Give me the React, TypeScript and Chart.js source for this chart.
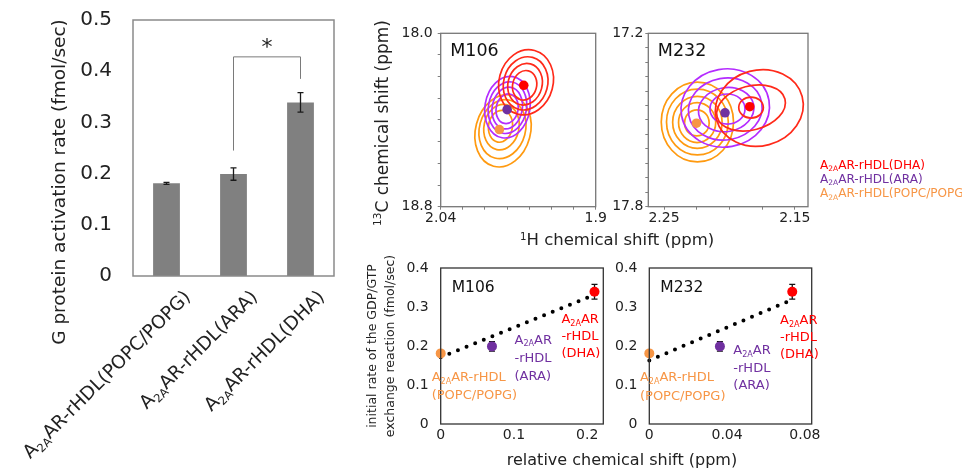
import React, { useEffect, useRef } from 'react';
import { Chart, registerables } from 'chart.js';

Chart.register(...registerables);

const FONT = '"DejaVu Sans", Verdana, sans-serif';
const TEXT = '#222222';

// ---------------- bar chart data ----------------
const barCategories = ['A_2A_AR-rHDL(POPC/POPG)', 'A_2A_AR-rHDL(ARA)', 'A_2A_AR-rHDL(DHA)'];
const activationRates = [0.181, 0.199, 0.339];
const activationErrors = [0.002, 0.012, 0.019];
const barYTicks = [0, 0.1, 0.2, 0.3, 0.4, 0.5];
const barYTickLabels = ['0', '0.1', '0.2', '0.3', '0.4', '0.5'];
const sigPair = [1, 2];
const sigBracketTop = 0.428;
const sigFeet = [0.245, 0.385];
const sigMark = '*';

// ---------------- NMR data (order: POPC/POPG, ARA, DHA) ----------------
const m106PeakH = [1.987, 1.98, 1.965];
const m106PeakC = [18.444, 18.352, 18.24];
const m232PeakH = [2.2252, 2.2034, 2.1845];
const m232PeakC = [17.511, 17.475, 17.454];

const m106HTicks = [1.9, 1.92, 1.94, 1.96, 1.98, 2.0, 2.02, 2.04];
const m106HTickLabels = ['1.9', '', '', '', '', '', '', '2.04'];
const m106CTicks = [18.0, 18.1, 18.2, 18.3, 18.4, 18.5, 18.6, 18.7, 18.8];
const m106CTickLabels = ['18.0', '', '', '', '', '', '', '', '18.8'];
const m232HTicks = [2.15, 2.175, 2.2, 2.225, 2.25];
const m232HTickLabels = ['2.15', '', '', '', '2.25'];
const m232CTicks = [17.2, 17.25, 17.3, 17.35, 17.4, 17.45, 17.5, 17.55, 17.6, 17.65, 17.7, 17.75, 17.8];
const m232CTickLabels = ['17.2', '', '', '', '', '', '', '', '', '', '', '', '17.8'];

// contour levels: [centre 1H, centre 13C, half-width 1H, half-height 13C, tilt deg]
const m106ContoursPOPC = [
  [1.9837, 18.45, 0.0248, 0.169, 15],
  [1.9842, 18.442, 0.0208, 0.138, 15],
  [1.9851, 18.433, 0.0158, 0.106, 12],
  [1.986, 18.429, 0.0108, 0.074, 10],
];
const m106ContoursARA = [
  [1.9797, 18.341, 0.0203, 0.143, 10],
  [1.9797, 18.343, 0.0172, 0.12, 10],
  [1.9799, 18.345, 0.0136, 0.097, 10],
  [1.98, 18.348, 0.0099, 0.069, 10],
];
const m106ContoursDHA = [
  [1.9629, 18.226, 0.0244, 0.152, 15],
  [1.9633, 18.231, 0.0199, 0.124, 15],
  [1.9638, 18.235, 0.0154, 0.097, 15],
  [1.9642, 18.24, 0.0108, 0.069, 15],
];
const m232ContoursPOPC = [
  [2.2245, 17.507, 0.0276, 0.138, 0],
  [2.2245, 17.507, 0.0236, 0.114, 0],
  [2.2245, 17.508, 0.0189, 0.09, 0],
  [2.2247, 17.509, 0.0142, 0.069, 0],
  [2.2249, 17.51, 0.0094, 0.045, 0],
];
const m232ContoursARA = [
  [2.2032, 17.4585, 0.0339, 0.135, -10],
  [2.2032, 17.462, 0.0283, 0.107, -10],
  [2.2025, 17.464, 0.0213, 0.076, -10],
  [2.2015, 17.462, 0.0134, 0.052, 0],
];
const m232ContoursDHA = [
  [2.1772, 17.4585, 0.0339, 0.131, -15],
  [2.1835, 17.4585, 0.0268, 0.076, -15],
  [2.1835, 17.457, 0.0094, 0.0363, 0],
];

// ---------------- correlation data ----------------
const m106Shift = [0, 0.07, 0.21];
const m232Shift = [0, 0.0363, 0.0735];
const m106Fit = [
  [0, 0.171],
  [0.203, 0.326],
];
const m232Fit = [
  [0, 0.163],
  [0.0712, 0.314],
];
const m106XTicks = [0, 0.1, 0.2];
const m106XTickLabels = ['0', '0.1', '0.2'];
const m232XTicks = [0, 0.04, 0.08];
const m232XTickLabels = ['0', '0.04', '0.08'];
const rateTicks = [0, 0.1, 0.2, 0.3, 0.4];
const rateTickLabels = ['0', '0.1', '0.2', '0.3', '0.4'];

const legendNames = ['DHA', 'ARA', 'POPC/POPG'];

// ---------------- styles ----------------
const textColors = ['#f79646', '#7030a0', '#ff0000'];
const dotColors = ['#f79646', '#7030a0', '#ff0000'];
const contourColors = ['#ff9a10', '#b42cff', '#ff2a1a'];
const legendColors = ['#ff0000', '#7030a0', '#f79646'];

// annotation placement (in axis units) for correlation labels
const m106Annot = [
  { lines: ['A_2A_AR-rHDL', '(POPC/POPG)'], x: -0.0123, y: 0.118, gap: 18, c: 0 },
  { lines: ['A_2A_AR', '-rHDL', '(ARA)'], x: 0.1008, y: 0.215, gap: 18, c: 1 },
  { lines: ['A_2A_AR', '-rHDL', '(DHA)'], x: 0.1648, y: 0.267, gap: 17, c: 2 },
];
const m232Annot = [
  { lines: ['A_2A_AR-rHDL', '(POPC/POPG)'], x: -0.0048, y: 0.118, gap: 19, c: 0 },
  { lines: ['A_2A_AR', '-rHDL', '(ARA)'], x: 0.0432, y: 0.188, gap: 17.5, c: 1 },
  { lines: ['A_2A_AR', '-rHDL', '(DHA)'], x: 0.0672, y: 0.265, gap: 17, c: 2 },
];

// ---------------- helpers ----------------
type Seg = { text: string; kind: 'n' | 'sub' | 'sup' };
function parseRich(s: string): Seg[] {
  const out: Seg[] = [];
  const re = /_([^_]*)_|\^([^^]*)\^/g;
  let last = 0;
  let m: any;
  while ((m = re.exec(s))) {
    if (m.index > last) out.push({ text: s.slice(last, m.index), kind: 'n' });
    if (m[1] !== undefined) out.push({ text: m[1], kind: 'sub' });
    else out.push({ text: m[2], kind: 'sup' });
    last = re.lastIndex;
  }
  if (last < s.length) out.push({ text: s.slice(last), kind: 'n' });
  return out;
}
const fnt = (size: number) => `${size}px ${FONT}`;
function drawRich(ctx: any, s: string, x: number, y: number, size: number, color: string, align: string) {
  const segs = parseRich(s);
  const small = size * 0.62;
  ctx.save();
  ctx.fillStyle = color;
  ctx.textBaseline = 'middle';
  ctx.textAlign = 'left';
  const widths = segs.map((sg) => {
    ctx.font = fnt(sg.kind === 'n' ? size : small);
    return ctx.measureText(sg.text).width;
  });
  const total = widths.reduce((a, b) => a + b, 0);
  let cx = align === 'left' ? x : align === 'right' ? x - total : x - total / 2;
  segs.forEach((sg, i) => {
    ctx.font = fnt(sg.kind === 'n' ? size : small);
    const dy = sg.kind === 'sub' ? size * 0.3 : sg.kind === 'sup' ? -size * 0.32 : 0;
    ctx.fillText(sg.text, cx, y + dy);
    cx += widths[i];
  });
  ctx.restore();
}
const fixSize = (size: number) => (scale: any) => {
  if (scale.isHorizontal()) scale.height = size;
  else scale.width = size;
  scale.paddingLeft = 0;
  scale.paddingRight = 0;
  scale.paddingTop = 0;
  scale.paddingBottom = 0;
};
const setTicks = (vals: number[]) => (scale: any) => {
  scale.ticks = vals.map((value) => ({ value }));
};
const boxPlugin = (color: string, width: number) => ({
  id: 'box',
  afterDraw(chart: any) {
    const { ctx, chartArea: a } = chart;
    ctx.save();
    ctx.strokeStyle = color;
    ctx.lineWidth = width;
    ctx.strokeRect(a.left, a.top, a.right - a.left, a.bottom - a.top);
    ctx.restore();
  },
});
const textPlugin = (draw: (chart: any) => void) => ({ id: 'txt', afterDraw: draw });

const baseOptions = {
  animation: false,
  responsive: false,
  events: [],
  plugins: { legend: { display: false }, tooltip: { enabled: false }, title: { display: false } },
};

// ---------------- chart configs ----------------
function barConfig(): any {
  return {
    type: 'bar',
    data: {
      labels: barCategories,
      datasets: [
        {
          data: activationRates,
          backgroundColor: '#808080',
          categoryPercentage: 0.5,
          barPercentage: 0.8,
        },
      ],
    },
    options: {
      ...baseOptions,
      layout: { padding: { top: 20, right: 11, left: 0, bottom: 0 } },
      scales: {
        x: {
          grid: { display: false, drawTicks: false },
          border: { display: false },
          ticks: { display: false },
          afterFit: fixSize(192),
        },
        y: {
          min: 0,
          max: 0.5,
          afterBuildTicks: setTicks(barYTicks),
          grid: { display: false, drawTicks: false },
          border: { display: false },
          ticks: {
            padding: 21,
            color: TEXT,
            font: { family: FONT, size: 20 },
            callback: (_v: any, i: number) => barYTickLabels[i],
          },
          afterFit: fixSize(133),
        },
      },
    },
    plugins: [
      boxPlugin('#8a8a8a', 1.5),
      {
        id: 'barDeco',
        afterDatasetsDraw(chart: any) {
          const ctx = chart.ctx;
          const ys = chart.scales.y;
          const xs = chart.scales.x;
          const meta = chart.getDatasetMeta(0);
          ctx.save();
          ctx.strokeStyle = '#1a1a1a';
          ctx.lineWidth = 1.3;
          meta.data.forEach((el: any, i: number) => {
            const x = el.x;
            const t = ys.getPixelForValue(activationRates[i] + activationErrors[i]);
            const b = ys.getPixelForValue(activationRates[i] - activationErrors[i]);
            ctx.beginPath();
            ctx.moveTo(x, t);
            ctx.lineTo(x, b);
            ctx.moveTo(x - 3, t);
            ctx.lineTo(x + 3, t);
            ctx.moveTo(x - 3, b);
            ctx.lineTo(x + 3, b);
            ctx.stroke();
          });
          // significance bracket
          const x1 = xs.getPixelForValue(sigPair[0]);
          const x2 = xs.getPixelForValue(sigPair[1]);
          const yt = ys.getPixelForValue(sigBracketTop);
          ctx.strokeStyle = '#7a7a7a';
          ctx.lineWidth = 1;
          ctx.beginPath();
          ctx.moveTo(x1, ys.getPixelForValue(sigFeet[0]));
          ctx.lineTo(x1, yt);
          ctx.lineTo(x2, yt);
          ctx.lineTo(x2, ys.getPixelForValue(sigFeet[1]));
          ctx.stroke();
          ctx.fillStyle = TEXT;
          ctx.font = fnt(22);
          ctx.textAlign = 'center';
          ctx.textBaseline = 'alphabetic';
          ctx.fillText(sigMark, (x1 + x2) / 2, yt - 3);
          ctx.restore();
        },
      },
      textPlugin((chart: any) => {
        const ctx = chart.ctx;
        const xs = chart.scales.x;
        const a = chart.chartArea;
        barCategories.forEach((lab, i) => {
          const x = xs.getPixelForValue(i);
          ctx.save();
          ctx.translate(x + 15, a.bottom + 12);
          ctx.rotate(-Math.PI / 4);
          drawRich(ctx, lab, 0, 18.6 * 0.5, 18.6, TEXT, 'right');
          ctx.restore();
        });
        ctx.save();
        ctx.translate(60, 182);
        ctx.rotate(-Math.PI / 2);
        drawRich(ctx, 'G protein activation rate (fmol/sec)', 0, 0, 18.5, TEXT, 'center');
        ctx.restore();
      }),
    ],
  };
}

function contourPlugin(sets: number[][][]) {
  return {
    id: 'contours',
    beforeDatasetsDraw(chart: any) {
      const { ctx, chartArea: a } = chart;
      const xs = chart.scales.x;
      const ys = chart.scales.y;
      ctx.save();
      ctx.beginPath();
      ctx.rect(a.left, a.top, a.right - a.left, a.bottom - a.top);
      ctx.clip();
      ctx.lineWidth = 1.7;
      ctx.lineJoin = 'round';
      sets.forEach((levels, gi) => {
        ctx.strokeStyle = contourColors[gi];
        levels.forEach(([cx, cy, rx, ry, rot]) => {
          const px = xs.getPixelForValue(cx);
          const py = ys.getPixelForValue(cy);
          const rpx = Math.abs(xs.getPixelForValue(cx + rx) - px);
          const rpy = Math.abs(ys.getPixelForValue(cy + ry) - py);
          ctx.beginPath();
          ctx.ellipse(px, py, rpx, rpy, (rot * Math.PI) / 180, 0, Math.PI * 2);
          ctx.stroke();
        });
      });
      ctx.restore();
    },
  };
}

function nmrConfig(p: any): any {
  return {
    type: 'scatter',
    data: {
      datasets: [
        {
          data: p.h.map((h: number, i: number) => ({ x: h, y: p.c[i] })),
          pointBackgroundColor: dotColors,
          pointBorderWidth: 0,
          pointRadius: 4.8,
          clip: false,
        },
      ],
    },
    options: {
      ...baseOptions,
      layout: { padding: { top: p.top, right: p.right, left: 0, bottom: 0 } },
      scales: {
        x: {
          type: 'linear',
          reverse: true,
          min: p.xmin,
          max: p.xmax,
          afterBuildTicks: setTicks(p.xTicks),
          grid: { display: true, drawOnChartArea: false, drawTicks: true, tickLength: 3, color: '#808080' },
          border: { display: false },
          ticks: {
            autoSkip: false,
            maxRotation: 0,
            minRotation: 0,
            padding: 0,
            color: TEXT,
            font: { family: FONT, size: 14 },
            callback: (_v: any, i: number) => p.xLabels[i],
          },
          afterFit: fixSize(p.xh),
        },
        y: {
          type: 'linear',
          reverse: true,
          min: p.ymin,
          max: p.ymax,
          afterBuildTicks: setTicks(p.yTicks),
          grid: { display: true, drawOnChartArea: false, drawTicks: true, tickLength: 3, color: '#808080' },
          border: { display: false },
          ticks: {
            autoSkip: false,
            padding: p.ypad,
            color: TEXT,
            font: { family: FONT, size: 14 },
            callback: (_v: any, i: number) => p.yLabels[i],
          },
          afterFit: fixSize(p.yw),
        },
      },
    },
    plugins: [
      contourPlugin(p.contours),
      boxPlugin('#777777', 1.3),
      textPlugin((chart: any) => {
        const ctx = chart.ctx;
        const a = chart.chartArea;
        drawRich(ctx, p.name, a.left + 9.5, a.top + 18.5, 17.5, '#111', 'left');
        if (p.yTitle) {
          ctx.save();
          ctx.translate(23.3, 123);
          ctx.rotate(-Math.PI / 2);
          drawRich(ctx, p.yTitle, 0, 0, 17, TEXT, 'center');
          ctx.restore();
        }
      }),
    ],
  };
}

function corrConfig(p: any): any {
  return {
    type: 'scatter',
    data: {
      datasets: [
        {
          data: p.shift.map((s: number, i: number) => ({ x: s, y: activationRates[i] })),
          pointBackgroundColor: dotColors,
          pointBorderWidth: 0,
          pointRadius: 5,
          clip: false,
        },
        {
          data: p.fit.map(([x, y]: number[]) => ({ x, y })),
          showLine: true,
          borderColor: '#000000',
          borderWidth: 4,
          borderDash: [0, 9.3],
          borderCapStyle: 'round',
          pointRadius: 0,
          clip: false,
        },
      ],
    },
    options: {
      ...baseOptions,
      layout: { padding: { top: 13, right: p.right, left: 0, bottom: 0 } },
      scales: {
        x: {
          type: 'linear',
          min: 0,
          max: p.xmax,
          afterBuildTicks: setTicks(p.xTicks),
          grid: { display: false, drawTicks: false },
          border: { display: false },
          ticks: {
            autoSkip: false,
            maxRotation: 0,
            minRotation: 0,
            padding: 3,
            color: TEXT,
            font: { family: FONT, size: 14 },
            callback: (_v: any, i: number) => p.xLabels[i],
          },
          afterFit: fixSize(44),
        },
        y: {
          type: 'linear',
          min: 0,
          max: 0.4,
          afterBuildTicks: setTicks(rateTicks),
          grid: { display: false, drawTicks: false },
          border: { display: false },
          ticks: {
            autoSkip: false,
            padding: 12,
            color: TEXT,
            font: { family: FONT, size: 14 },
            callback: (_v: any, i: number) => rateTickLabels[i],
          },
          afterFit: fixSize(p.yw),
        },
      },
    },
    plugins: [
      {
        id: 'errbars',
        beforeDatasetsDraw(chart: any) {
          const ctx = chart.ctx;
          const ys = chart.scales.y;
          const meta = chart.getDatasetMeta(0);
          ctx.save();
          ctx.strokeStyle = '#111';
          ctx.lineWidth = 1.3;
          meta.data.forEach((el: any, i: number) => {
            const x = el.x;
            const t = ys.getPixelForValue(activationRates[i] + activationErrors[i]);
            const b = ys.getPixelForValue(activationRates[i] - activationErrors[i]);
            ctx.beginPath();
            ctx.moveTo(x, t);
            ctx.lineTo(x, b);
            ctx.moveTo(x - 3, t);
            ctx.lineTo(x + 3, t);
            ctx.moveTo(x - 3, b);
            ctx.lineTo(x + 3, b);
            ctx.stroke();
          });
          ctx.restore();
        },
      },
      boxPlugin('#333333', 1.3),
      textPlugin((chart: any) => {
        const ctx = chart.ctx;
        const a = chart.chartArea;
        const xs = chart.scales.x;
        const ys = chart.scales.y;
        drawRich(ctx, p.name, a.left + 11, a.top + 20.3, 15.5, '#111', 'left');
        p.annot.forEach((an: any) => {
          const x = xs.getPixelForValue(an.x);
          const y = ys.getPixelForValue(an.y);
          an.lines.forEach((ln: string, k: number) => {
            drawRich(ctx, ln, x, y + k * an.gap, 13, textColors[an.c], 'left');
          });
        });
        if (p.yTitle) {
          ctx.save();
          ctx.translate(27.5, 91);
          ctx.rotate(-Math.PI / 2);
          drawRich(ctx, p.yTitle[0], 0, 0, 12.5, TEXT, 'center');
          ctx.restore();
          ctx.save();
          ctx.translate(45.8, 91);
          ctx.rotate(-Math.PI / 2);
          drawRich(ctx, p.yTitle[1], 0, 0, 12.5, TEXT, 'center');
          ctx.restore();
        }
      }),
    ],
  };
}

function ChartBox({ x, y, w, h, make }: { x: number; y: number; w: number; h: number; make: () => any }) {
  const ref = useRef<HTMLCanvasElement>(null);
  useEffect(() => {
    const chart = new Chart(ref.current as HTMLCanvasElement, make());
    return () => chart.destroy();
  }, []);
  return (
    <div style={{ position: 'absolute', left: x, top: y, width: w, height: h }}>
      <canvas ref={ref} width={w} height={h} style={{ width: w, height: h, display: 'block' }} />
    </div>
  );
}

const subStyle: any = { fontSize: '0.62em', position: 'relative', top: '0.3em' };
const supStyle: any = { fontSize: '0.62em', position: 'relative', top: '-0.45em' };

export default function App() {
  return (
    <div
      style={{
        position: 'fixed',
        left: 0,
        top: 0,
        width: 962,
        height: 468,
        background: '#ffffff',
        overflow: 'hidden',
        fontFamily: FONT,
      }}
    >
      <ChartBox x={0} y={0} w={345} h={468} make={barConfig} />
      <ChartBox
        x={360}
        y={0}
        w={252}
        h={235}
        make={() =>
          nmrConfig({
            name: 'M106',
            h: m106PeakH,
            c: m106PeakC,
            xmin: 1.9,
            xmax: 2.04,
            ymin: 18.0,
            ymax: 18.8,
            xTicks: m106HTicks,
            xLabels: m106HTickLabels,
            yTicks: m106CTicks,
            yLabels: m106CTickLabels,
            top: 33.3,
            right: 16.3,
            xh: 28.3,
            yw: 80.7,
            ypad: 5,
            contours: [m106ContoursPOPC, m106ContoursARA, m106ContoursDHA],
            yTitle: '^13^C chemical shift (ppm)',
          })
        }
      />
      <ChartBox
        x={605}
        y={0}
        w={215}
        h={235}
        make={() =>
          nmrConfig({
            name: 'M232',
            h: m232PeakH,
            c: m232PeakC,
            xmin: 2.14,
            xmax: 2.262,
            ymin: 17.2,
            ymax: 17.8,
            xTicks: m232HTicks,
            xLabels: m232HTickLabels,
            yTicks: m232CTicks,
            yLabels: m232CTickLabels,
            top: 33.3,
            right: 12,
            xh: 28.3,
            yw: 43.3,
            ypad: 2,
            contours: [m232ContoursPOPC, m232ContoursARA, m232ContoursDHA],
            yTitle: null,
          })
        }
      />
      <ChartBox
        x={345}
        y={255}
        w={265}
        h={213}
        make={() =>
          corrConfig({
            name: 'M106',
            shift: m106Shift,
            fit: m106Fit,
            xmax: 0.222,
            xTicks: m106XTicks,
            xLabels: m106XTickLabels,
            right: 6.7,
            yw: 95.7,
            annot: m106Annot,
            yTitle: ['initial rate of the GDP/GTP', 'exchange reaction (fmol/sec)'],
          })
        }
      />
      <ChartBox
        x={612}
        y={255}
        w={210}
        h={213}
        make={() =>
          corrConfig({
            name: 'M232',
            shift: m232Shift,
            fit: m232Fit,
            xmax: 0.0835,
            xTicks: m232XTicks,
            xLabels: m232XTickLabels,
            right: 10.3,
            yw: 37.3,
            annot: m232Annot,
            yTitle: null,
          })
        }
      />
      <div
        style={{
          position: 'absolute',
          left: 520,
          top: 230,
          fontSize: 16.5,
          lineHeight: '20px',
          color: TEXT,
          whiteSpace: 'nowrap',
        }}
      >
        <span style={supStyle}>1</span>H chemical shift (ppm)
      </div>
      <div
        style={{
          position: 'absolute',
          left: 422,
          width: 400,
          textAlign: 'center',
          top: 450,
          fontSize: 16,
          lineHeight: '20px',
          color: TEXT,
          whiteSpace: 'nowrap',
        }}
      >
        relative chemical shift (ppm)
      </div>
      {legendNames.map((n, i) => (
        <div
          key={n}
          style={{
            position: 'absolute',
            left: 820,
            top: 157 + i * 14.2,
            fontSize: 12.1,
            lineHeight: '16px',
            color: legendColors[i],
            whiteSpace: 'nowrap',
          }}
        >
          A<span style={subStyle}>2A</span>AR-rHDL({n})
        </div>
      ))}
    </div>
  );
}
